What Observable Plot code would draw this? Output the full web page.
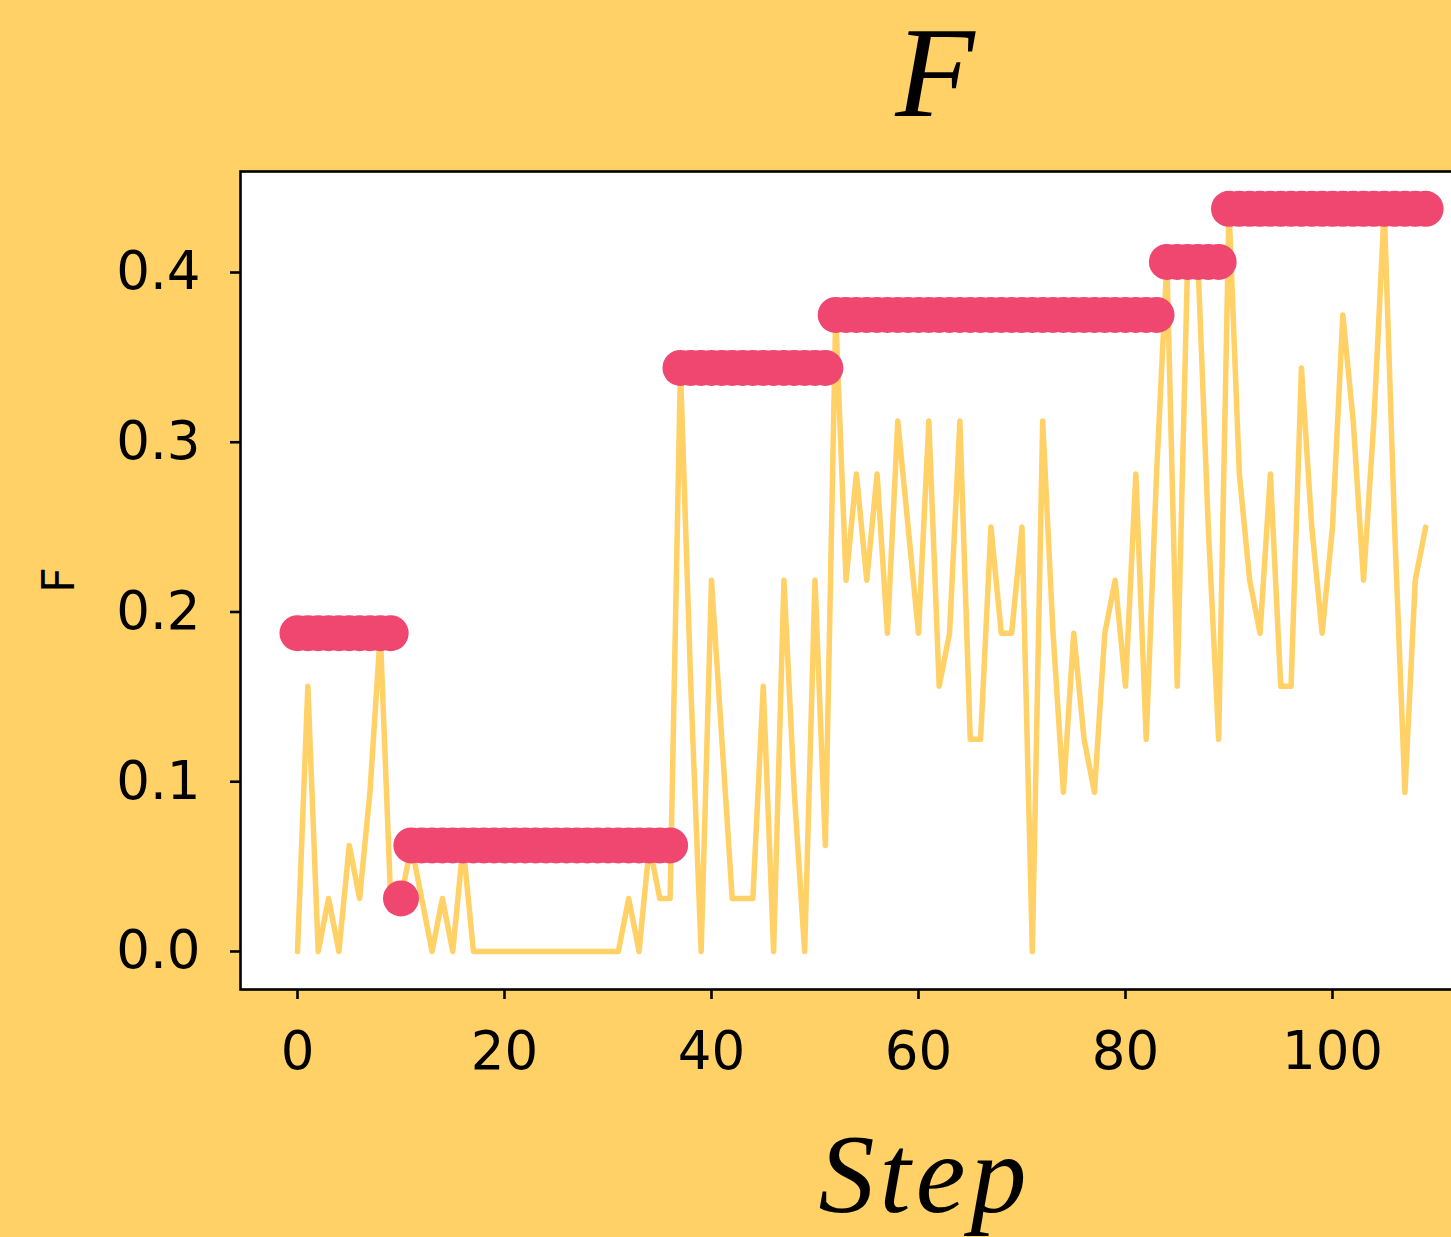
<!DOCTYPE html>
<html>
<head>
<meta charset="utf-8">
<script src="https://cdn.jsdelivr.net/npm/d3@7"></script>
<script src="https://cdn.jsdelivr.net/npm/@observablehq/plot@0.6"></script>
<style>
  html, body { margin: 0; padding: 0; background: #FFD166; overflow: hidden; }
  #wrap { position: relative; width: 1451px; height: 1237px; overflow: hidden; background: #FFD166; }
  #wrap > svg.plot, #wrap > svg { position: absolute; left: 0; top: 0; max-width: none !important; }
  #labels { position: absolute; left: 0; top: 0; pointer-events: none; }
</style>
</head>
<body>
<div id="wrap"></div>
<script>
// F measured at each step of the run
const steps = d3.range(0, 110);
const F = [
  0, 0.15625, 0, 0.03125, 0, 0.0625, 0.03125, 0.09375, 0.1875, 0.03125,
  0.03125, 0.0625, 0.03125, 0, 0.03125, 0, 0.0625, 0, 0, 0,
  0, 0, 0, 0, 0, 0, 0, 0, 0, 0,
  0, 0, 0.03125, 0, 0.0625, 0.03125, 0.03125, 0.34375, 0.15625, 0,
  0.21875, 0.125, 0.03125, 0.03125, 0.03125, 0.15625, 0, 0.21875, 0.09375, 0,
  0.21875, 0.0625, 0.375, 0.21875, 0.28125, 0.21875, 0.28125, 0.1875, 0.3125, 0.25,
  0.1875, 0.3125, 0.15625, 0.1875, 0.3125, 0.125, 0.125, 0.25, 0.1875, 0.1875,
  0.25, 0, 0.3125, 0.1875, 0.09375, 0.1875, 0.125, 0.09375, 0.1875, 0.21875,
  0.15625, 0.28125, 0.125, 0.28125, 0.40625, 0.15625, 0.40625, 0.40625, 0.25, 0.125,
  0.4375, 0.28125, 0.21875, 0.1875, 0.28125, 0.15625, 0.15625, 0.34375, 0.25, 0.1875,
  0.25, 0.375, 0.3125, 0.21875, 0.3125, 0.4375, 0.25, 0.09375, 0.21875, 0.25
];

// best F held over each stretch of steps
const bestLevel = [0.1875, 0.03125, 0.0625, 0.34375, 0.375, 0.40625, 0.4375];
const bestFrom  = [0, 10, 11, 37, 52, 84, 90];
const bestTo    = [9, 10, 36, 51, 83, 89, 109];

const xTicks = [0, 20, 40, 60, 80, 100];
const yTicks = [0, 0.1, 0.2, 0.3, 0.4];

const yellow = "#FFD166";
const pink = "#EF476F";

const rows = steps.map((s, i) => ({step: s, f: F[i]}));
const bestRows = bestLevel.flatMap((v, j) =>
  d3.range(bestFrom[j], bestTo[j] + 1).map(s => ({step: s, best: v})));

const chart = Plot.plot({
  width: 1501,
  height: 1237,
  marginLeft: 240,
  marginRight: 0,
  marginTop: 171,
  marginBottom: 248,
  style: {background: "transparent", fontFamily: "DejaVu Sans", color: "black", maxWidth: "none"},
  x: {domain: [-5.507, 116.33]},
  y: {domain: [-0.0224, 0.4595]},
  marks: [
    Plot.frame({fill: "white", stroke: null}),
    Plot.line(rows, {x: "step", y: "f", stroke: yellow, strokeWidth: 5.5}),
    Plot.dot(bestRows, {x: "step", y: "best", r: 18, fill: pink, stroke: null}),
    Plot.frame({stroke: "black", strokeWidth: 2.6}),
    Plot.axisX({ticks: xTicks, tickFormat: d => String(d), tickSize: 10, tickPadding: 32,
                fontSize: 53, strokeWidth: 2.6, label: null}),
    Plot.axisY({ticks: yTicks, tickFormat: d3.format(".1f"), tickSize: 10, tickPadding: 30,
                fontSize: 53, strokeWidth: 2.6, label: null})
  ]
});
document.getElementById("wrap").appendChild(chart);

// title and axis labels
const ns = "http://www.w3.org/2000/svg";
const overlay = document.createElementNS(ns, "svg");
overlay.setAttribute("id", "labels");
overlay.setAttribute("width", 1451);
overlay.setAttribute("height", 1237);
function addText(txt, x, y, attrs) {
  const t = document.createElementNS(ns, "text");
  t.setAttribute("x", x);
  t.setAttribute("y", y);
  for (const k in attrs) t.setAttribute(k, attrs[k]);
  t.textContent = txt;
  overlay.appendChild(t);
  return t;
}
addText("F", 935, 116, {"text-anchor": "middle", "font-family": "Liberation Serif", "font-style": "italic", "font-size": 130});
addText("Step", 925, 1212, {"text-anchor": "middle", "font-family": "Liberation Serif", "font-style": "italic",
  "font-size": 112, "letter-spacing": 5});
addText("F", 0, 0, {"text-anchor": "middle", "font-family": "DejaVu Sans", "font-size": 45,
  "transform": "translate(74,580) rotate(-90)"});
document.getElementById("wrap").appendChild(overlay);
</script>
</body>
</html>
